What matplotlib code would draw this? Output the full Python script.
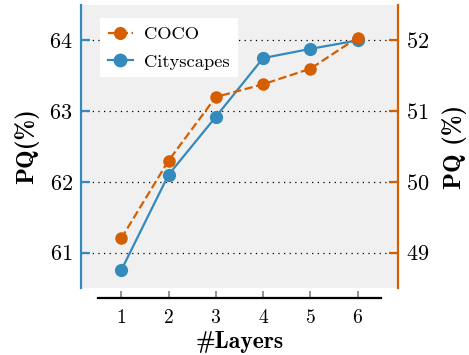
import numpy as np
import matplotlib
matplotlib.use("Agg")
import matplotlib.pyplot as plt

# data
layers = [1, 2, 3, 4, 5, 6]
cityscapes_pq = [60.75, 62.1, 62.92, 63.75, 63.88, 64.0]
coco_pq = [49.2, 50.3, 51.2, 51.38, 51.6, 52.04]
left_ticks = [61, 62, 63, 64]
right_ticks = [49, 50, 51, 52]

blue = "#348ABD"
orange = "#D55E00"

plt.rcParams["font.family"] = "serif"
plt.rcParams["font.serif"] = ["cmr10"]
plt.rcParams["mathtext.fontset"] = "cm"
plt.rcParams["axes.unicode_minus"] = False
plt.rcParams["axes.formatter.use_mathtext"] = True

fig = plt.figure(figsize=(4.69, 3.55), dpi=100)
ax = fig.add_axes([0.1727, 0.1887, 0.6759, 0.7972])
ax.set_facecolor("#f0f0f0")
ax2 = ax.twinx()
ax2.patch.set_visible(False)

l1, = ax.plot(layers, cityscapes_pq, "-o", color=blue, lw=1.6, ms=8.5,
              label="Cityscapes", zorder=3)
l2, = ax2.plot(layers, coco_pq, "--o", color=orange, lw=1.6, ms=8,
               label="COCO", zorder=3)

ax.set_xlim(0.15, 6.85)
ax.set_ylim(60.5, 64.5)
ax2.set_ylim(48.5, 52.5)
ax.set_xticks(layers)
ax.set_yticks(left_ticks)
ax2.set_yticks(right_ticks)

for t in left_ticks:
    ax.axhline(t, color="black", ls=(0, (1, 3.5)), lw=0.9, zorder=1)

# spines
ax.spines["top"].set_visible(False)
ax.spines["right"].set_visible(False)
ax2.spines["top"].set_visible(False)
ax2.spines["left"].set_visible(False)
ax2.spines["bottom"].set_visible(False)
ax.spines["left"].set_color(blue)
ax.spines["left"].set_linewidth(1.6)
ax2.spines["right"].set_color(orange)
ax2.spines["right"].set_linewidth(1.6)
ax.spines["bottom"].set_position(("outward", 7))
ax.spines["bottom"].set_bounds(0.5, 6.5)
ax.spines["bottom"].set_linewidth(1.6)

ax.tick_params(axis="x", direction="in", length=5, width=1.2, color="gray",
               labelsize=14, pad=8)
ax.tick_params(axis="y", direction="in", length=6.5, width=1.6, color=blue,
               labelsize=16, pad=6)
ax2.tick_params(axis="y", direction="in", length=6.5, width=1.6, color=orange,
                labelsize=16, pad=6)

ax.set_xlabel("#Layers", fontsize=17, labelpad=3, family="cmb10")
ax.set_ylabel("PQ(%)", fontsize=18, labelpad=7, family="cmb10")
ax2.set_ylabel("PQ (%)", fontsize=18, labelpad=9, family="cmb10")

leg = ax2.legend([l2, l1], ["COCO", "Cityscapes"], loc="upper left",
                 bbox_to_anchor=(0.03, 0.985), fontsize=13.3, fancybox=False,
                 framealpha=1, edgecolor="none", handlelength=1.4,
                 borderpad=0.42, labelspacing=0.62, handletextpad=0.6,
                 markerscale=1.05)

fig.savefig("out.png", dpi=100)
